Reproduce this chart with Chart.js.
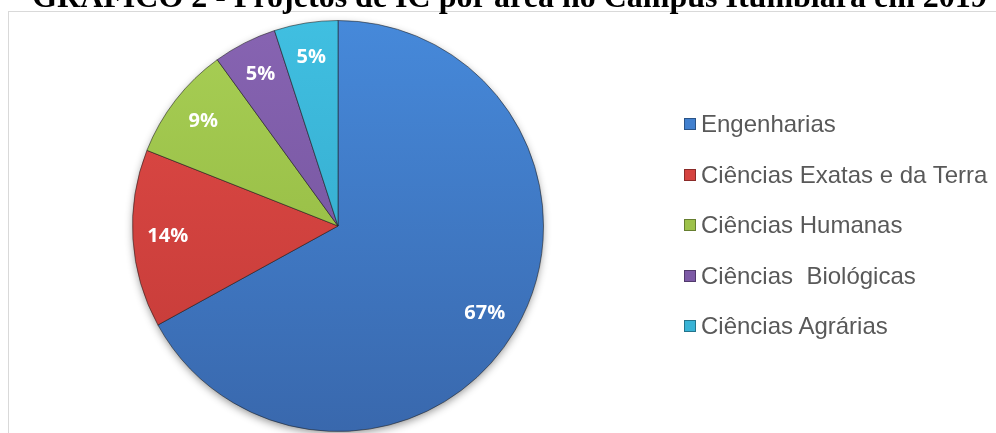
<!DOCTYPE html>
<html>
<head>
<meta charset="utf-8">
<script src="https://cdn.jsdelivr.net/npm/chart.js@4.4.1/dist/chart.umd.min.js"></script>
<style>
    html, body {
        margin: 0;
        padding: 0;
        background: #fff;
        overflow: hidden;
    }
    #page {
        position: relative;
        width: 996px;
        height: 433px;
        overflow: hidden;
    }
    #frame {
        position: absolute;
        left: 8px;
        top: 11px;
        width: 1100px;
        height: 600px;
        border: 1px solid #d9d9d9;
        box-sizing: border-box;
    }
    #title {
        position: absolute;
        left: 0;
        top: -20px;
        width: 1019px;
        text-align: center;
        font-family: "Liberation Serif", "Times New Roman", serif;
        font-weight: bold;
        font-size: 32px;
        line-height: 32px;
        color: #000;
        white-space: nowrap;
    }
    #chartBox {
        position: absolute;
        left: 0;
        top: 0;
        width: 996px;
        height: 433px;
    }
    .legend-item {
        position: absolute;
        left: 684px;
        height: 30px;
        line-height: 30px;
        font-family: "Liberation Sans", Arial, sans-serif;
        font-size: 24px;
        color: #595959;
        white-space: pre;
    }
    .legend-item .swatch {
        position: absolute;
        left: 0;
        top: 9px;
        width: 12px;
        height: 12px;
        box-sizing: border-box;
        border: 1px solid rgba(0, 0, 0, 0.35);
    }
    .legend-item .text {
        position: absolute;
        left: 17px;
        top: 0;
    }
</style>
</head>
<body>
<div id="page">
    <div id="frame"></div>
    <div id="chartBox"><canvas id="pieChart"></canvas></div>
    <div id="title">GRÁFICO 2 - Projetos de IC por área no Campus Itumbiara em 2019</div>
    <div id="legend"></div>
</div>

<script>
// Chart data (percent of projects per area)
const areas = ['Engenharias', 'Ciências Exatas e da Terra', 'Ciências Humanas', 'Ciências  Biológicas', 'Ciências Agrárias'];
const shares = [67, 14, 9, 5, 5];

// Slice colours: lighter at the top of the pie, darker at the bottom
const lightColors = ['#4689DA', '#E04A46', '#A8CF55', '#8764B2', '#40BFE1'];
const darkColors = ['#3968AD', '#C23A37', '#8DB23C', '#6E4F97', '#30A2C4'];
const baseColors = ['#4180CF', '#D5423F', '#9DC24A', '#7D5AA6', '#38B3D6'];

// Build the HTML legend
function buildLegend() {
    const legend = document.getElementById('legend');
    areas.forEach((name, i) => {
        const item = document.createElement('div');
        item.className = 'legend-item';
        item.style.top = (109 + i * 50.5) + 'px';
        item.innerHTML = `<span class="swatch" style="background:${baseColors[i]}"></span><span class="text">${name}</span>`;
        legend.appendChild(item);
    });
}

// Vertical gradient per slice
function sliceColor(context) {
    const i = context.dataIndex;
    const chart = context.chart;
    const area = chart.chartArea;
    if (!area) {
        return baseColors[i];
    }
    const g = chart.ctx.createLinearGradient(0, area.top, 0, area.bottom);
    g.addColorStop(0, lightColors[i]);
    g.addColorStop(1, darkColors[i]);
    return g;
}

// Soft shadow under the pie
const pieShadow = {
    id: 'pieShadow',
    beforeDatasetsDraw(chart) {
        const arc = chart.getDatasetMeta(0).data[0];
        if (!arc) return;
        const ctx = chart.ctx;
        ctx.save();
        ctx.shadowColor = 'rgba(0, 0, 0, 0.45)';
        ctx.shadowBlur = 9;
        ctx.shadowOffsetY = 3;
        ctx.fillStyle = '#888';
        ctx.beginPath();
        ctx.arc(arc.x, arc.y, arc.outerRadius - 1, 0, Math.PI * 2);
        ctx.fill();
        ctx.restore();
    }
};

// Percentage labels inside the slices
const sliceLabels = {
    id: 'sliceLabels',
    afterDatasetsDraw(chart) {
        const ctx = chart.ctx;
        const meta = chart.getDatasetMeta(0);
        ctx.save();
        ctx.font = 'bold 20px "Open Sans", "DejaVu Sans", sans-serif';
        ctx.fillStyle = '#ffffff';
        ctx.textAlign = 'center';
        ctx.textBaseline = 'middle';
        meta.data.forEach((arc, i) => {
            const mid = (arc.startAngle + arc.endAngle) / 2;
            const r = arc.outerRadius * 0.83;
            const x = arc.x + Math.cos(mid) * r;
            const y = arc.y + Math.sin(mid) * r;
            ctx.fillText(shares[i] + '%', x, y);
        });
        ctx.restore();
    }
};

document.addEventListener('DOMContentLoaded', function() {
    buildLegend();

    const ctx = document.getElementById('pieChart').getContext('2d');
    new Chart(ctx, {
        type: 'pie',
        data: {
            labels: areas,
            datasets: [{
                data: shares,
                backgroundColor: sliceColor,
                borderColor: 'rgba(30, 30, 30, 0.55)',
                borderWidth: 1
            }]
        },
        options: {
            responsive: true,
            maintainAspectRatio: false,
            animation: false,
            layout: {
                padding: { top: 20, bottom: 1, left: 132, right: 452 }
            },
            plugins: {
                legend: { display: false },
                tooltip: { enabled: false }
            }
        },
        plugins: [pieShadow, sliceLabels]
    });
});
</script>
</body>
</html>
